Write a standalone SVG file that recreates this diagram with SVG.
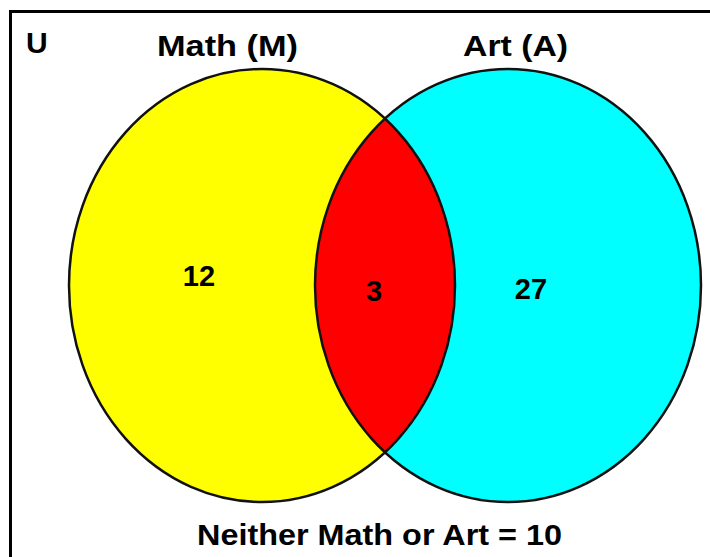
<svg xmlns="http://www.w3.org/2000/svg" width="710" height="557" viewBox="0 0 710 557">
<style>
.t{font-family:"Liberation Sans",Arial,Helvetica,sans-serif;font-weight:bold;fill:#000}
.lbl{font-size:30px}
.num{font-size:29px;text-anchor:middle}
.ol{fill:none;stroke:#111;stroke-width:2.5}
</style>
<rect width="710" height="557" fill="#fff"/>
<g id="universe">
<rect x="10.5" y="11.5" width="730" height="580" fill="none" stroke="#000" stroke-width="3"/>
<text class="t lbl" x="26" y="53">U</text>
</g>
<g id="set-math">
<ellipse cx="262" cy="285.5" rx="193" ry="216.5" fill="#ffff00"/>
</g>
<g id="set-art">
<ellipse cx="508" cy="285.5" rx="193" ry="216.5" fill="#00ffff"/>
</g>
<g id="intersection">
<path d="M385 118.7 A193 216.5 0 0 1 385 452.3 A193 216.5 0 0 1 385 118.7 Z" fill="#ff0000"/>
</g>
<g id="outlines">
<ellipse class="ol" cx="262" cy="285.5" rx="193" ry="216.5"/>
<ellipse class="ol" cx="508" cy="285.5" rx="193" ry="216.5"/>
</g>
<g id="labels">
<text class="t lbl" x="157" y="56" textLength="141" lengthAdjust="spacingAndGlyphs">Math (M)</text>
<text class="t lbl" x="463" y="56" textLength="105" lengthAdjust="spacingAndGlyphs">Art (A)</text>
<text class="t num" x="199" y="286">12</text>
<text class="t num" x="374" y="301">3</text>
<text class="t num" x="531" y="299">27</text>
<text class="t lbl" x="197" y="545" textLength="365" lengthAdjust="spacingAndGlyphs">Neither Math or Art = 10</text>
</g>
</svg>
